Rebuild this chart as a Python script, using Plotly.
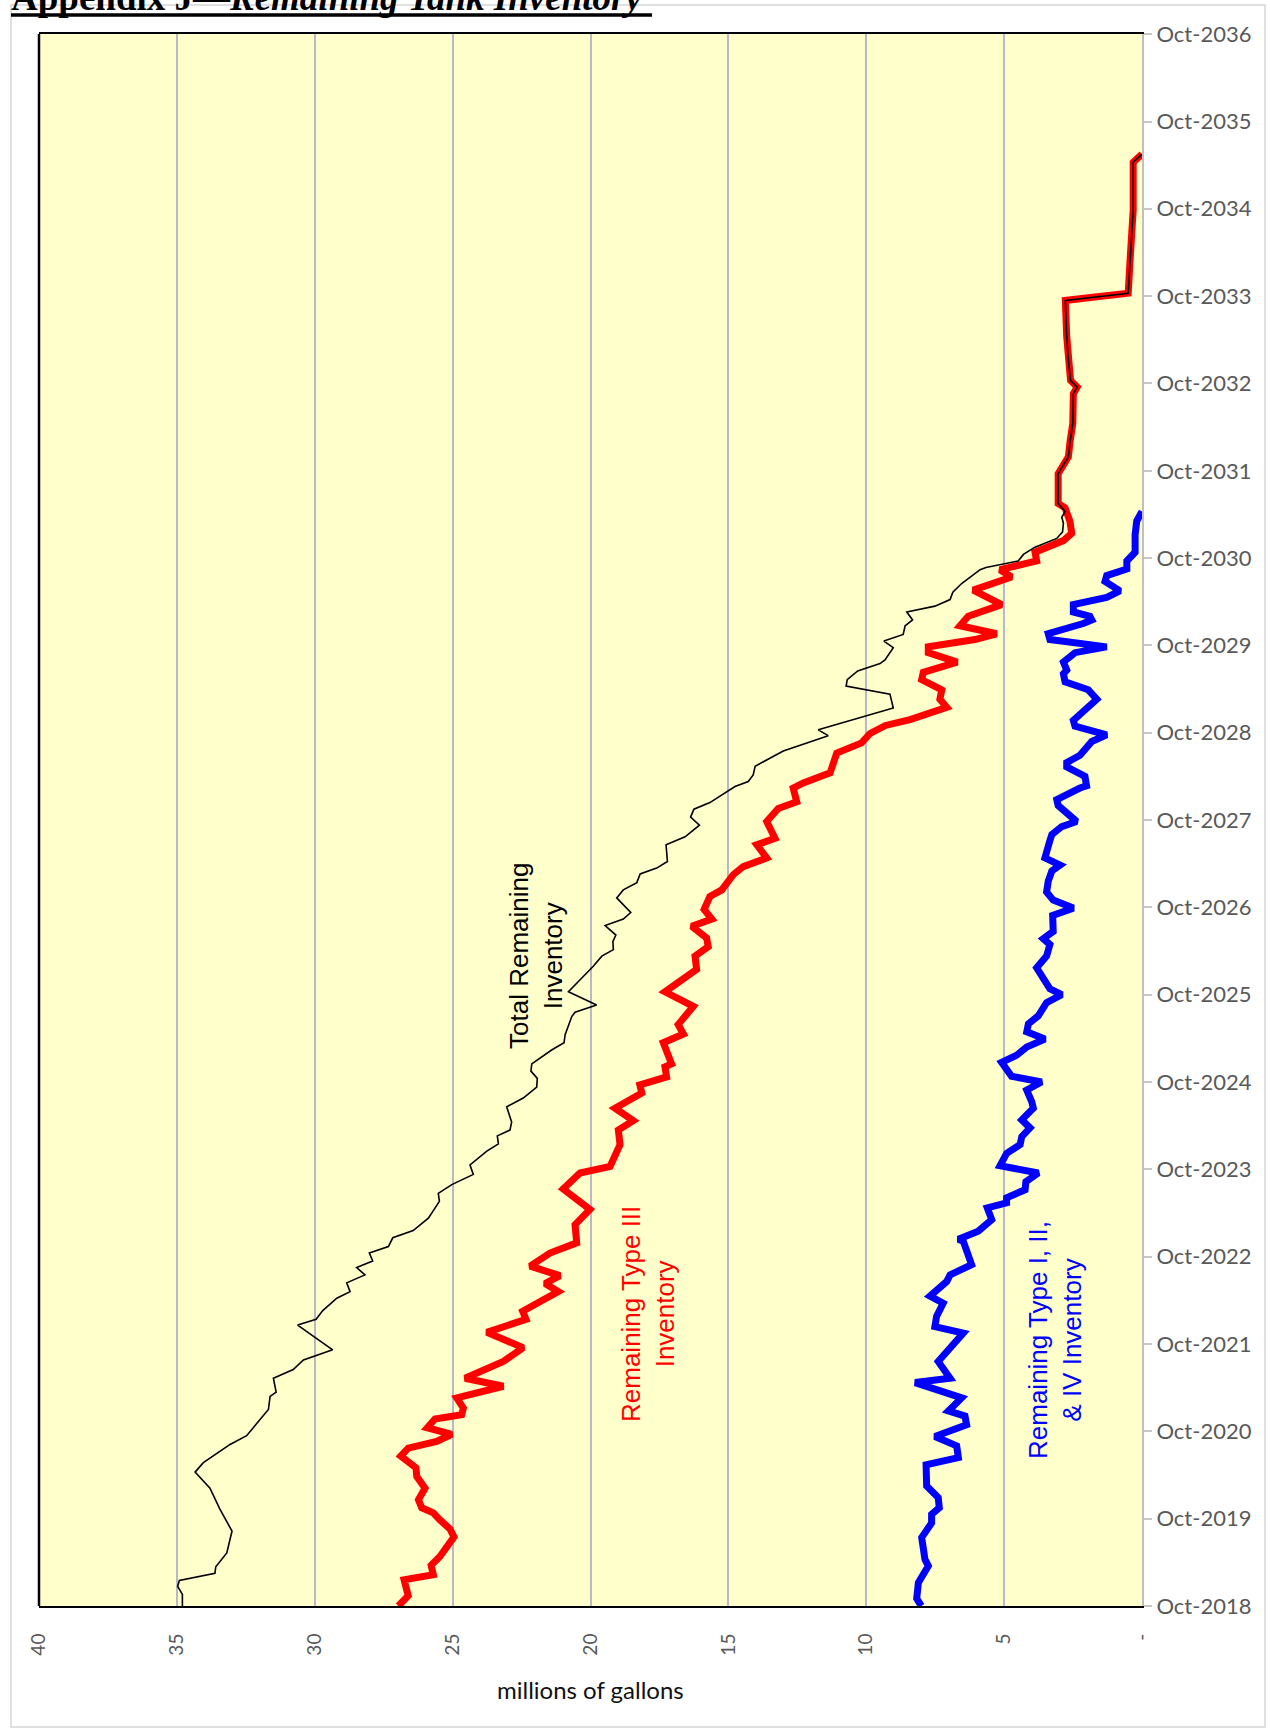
import numpy as np
import pandas as pd
import plotly.graph_objects as go

# ---------------- data (months after Oct-2018, millions of gallons) ----------------
total_months = [0, 1.6, 2.7, 3.5, 4.5, 5.4, 7.3, 10.3, 13.3, 16.2, 18.4, 19.7, 22.2, 23.4, 27.0, 28.8,
                29.4, 31.3, 32.5, 33.8, 35.2, 38.6, 39.4, 40.6, 42.3, 43.2, 44.4, 45.5, 46.5, 47.4,
                48.5, 49.4, 50.6, 51.6, 53.3, 55.6, 56.7, 57.9, 59.3, 60.6, 62.5, 63.5, 64.6, 65.4,
                66.5, 68.6, 69.8, 71.3, 72.5, 73.5, 74.5, 76.4, 77.4, 78.5, 81.0, 81.6, 82.6, 84.4,
                87.9, 89.3, 90.2, 91.3, 92.2, 93.5, 94.4, 95.3, 97.3, 98.4, 99.4, 100.6, 101.4, 102.3,
                104.6, 105.7, 107.3, 108.4, 109.5, 110.4, 112.6, 113.3, 114.2, 115.4, 117.5, 119.6,
                120.4, 122.4, 123.4, 125.3, 126.4, 127.3, 128.5, 129.5, 130.0, 131.7, 132.6, 133.5,
                134.7, 135.5, 136.6, 137.4, 138.3, 139.3, 140.5, 142.4, 142.7, 143.6, 144.5, 145.5,
                146.7, 147.6, 148.8, 149.6, 150.4]
total_values = [34.80, 34.80, 34.97, 34.91, 33.62, 33.59, 33.19, 33.00, 33.44, 33.80, 34.34, 34.04,
                33.07, 32.47, 31.68, 31.62, 31.40, 31.50, 30.78, 30.41, 29.35, 30.62, 29.95, 29.71,
                29.20, 28.72, 28.84, 28.18, 28.48, 27.90, 28.02, 27.33, 27.17, 26.43, 25.88, 25.48,
                25.52, 25.03, 24.25, 24.37, 23.76, 23.34, 23.38, 22.92, 22.86, 23.04, 22.44, 21.95,
                21.93, 22.16, 22.13, 21.41, 20.96, 20.92, 20.68, 20.56, 19.78, 20.80, 19.90, 19.59,
                19.17, 19.19, 19.08, 19.47, 18.81, 18.54, 19.05, 18.81, 18.32, 18.20, 17.60, 17.21,
                17.26, 16.57, 16.05, 16.37, 16.25, 15.67, 14.76, 14.28, 14.10, 14.03, 13.01, 11.38,
                11.74, 9.98, 9.02, 9.14, 10.73, 10.69, 10.31, 9.50, 9.32, 9.02, 9.36, 8.66,
                8.59, 8.32, 8.53, 7.51, 6.96, 6.86, 6.54, 5.87, 5.66, 4.49, 4.30, 3.88,
                3.09, 2.88, 2.85, 2.91, 2.79]

type3_months = [0, 1.4, 3.6, 4.3, 5.6, 6.8, 9.5, 10.6, 11.9, 12.8, 13.5, 14.6, 16.2, 17.8, 19.0, 19.7,
                20.6, 21.7, 22.6, 23.6, 24.5, 25.7, 26.3, 27.2, 28.6, 30.2, 31.3, 33.6, 35.5, 37.6,
                39.4, 40.5, 41.4, 43.2, 44.3, 45.4, 46.7, 48.5, 49.9, 52.4, 54.5, 57.3, 59.5, 60.4,
                63.4, 65.4, 66.7, 68.4, 70.5, 71.6, 72.7, 74.1, 74.5, 77.4, 78.6, 79.9, 82.4, 84.4,
                87.5, 89.3, 90.6, 91.8, 93.4, 94.4, 95.7, 97.5, 98.4, 100.5, 101.6, 102.8, 104.6,
                105.5, 107.8, 109.6, 110.5, 112.4, 113.1, 114.5, 117.2, 118.6, 119.9, 121.0, 121.8,
                123.5, 124.6, 125.9, 127.3, 128.3, 129.7, 131.0, 131.8, 132.8, 133.6, 134.7, 136.0,
                137.6, 139.6, 140.5, 141.4, 142.4, 143.6, 144.8, 146.4, 147.4, 149.0, 150.9]
type3_values = [26.97, 26.61, 26.76, 25.70, 25.78, 25.46, 24.95, 25.10, 25.48, 25.70, 26.12, 26.24,
                26.00, 26.30, 26.33, 26.61, 26.88, 26.61, 25.58, 25.03, 25.92, 25.64, 24.67, 24.61,
                24.85, 23.16, 24.55, 23.16, 22.44, 23.76, 22.34, 22.46, 22.07, 21.17, 21.65, 21.11,
                22.19, 21.47, 20.50, 20.56, 20.02, 20.99, 20.38, 19.29, 18.93, 18.99, 18.45, 19.11,
                18.14, 18.21, 17.24, 17.30, 17.06, 17.36, 16.63, 16.82, 16.27, 17.30, 16.15, 16.21,
                15.73, 15.79, 16.33, 15.60, 15.88, 15.67, 15.24, 14.82, 14.46, 13.61, 13.97, 13.31,
                13.61, 13.19, 12.52, 12.65, 12.28, 11.31, 11.07, 10.17, 9.86, 9.30, 8.41, 7.08,
                7.33, 7.26, 7.99, 7.93, 6.70, 7.75, 7.75, 6.06, 5.27, 6.60, 6.30, 5.09, 6.12, 5.33,
                4.73, 5.15, 3.82, 3.88, 2.85, 2.55, 2.61, 2.79]

# final stretch shared by Total and Type III (all remaining waste is Type III)
tail_months = [151.5, 155.6, 156.8, 157.9, 160.0, 162.5, 166.6, 167.5, 168.4, 171.2, 174.4, 179.4,
               180.4, 184.5, 188.1, 191.8, 198.4, 199.5]
tail_values = [3.04, 3.04, 2.85, 2.67, 2.61, 2.51, 2.49, 2.35, 2.59, 2.67, 2.73, 2.78,
               0.50, 0.44, 0.37, 0.32, 0.32, 0.0]

other_months = [0, 1.0, 3.2, 5.5, 6.4, 9.4, 11.4, 12.6, 13.5, 14.9, 16.5, 19.4, 20.4, 22.0, 23.3,
                24.9, 26.1, 26.8, 28.6, 30.7, 31.3, 33.6, 37.5, 38.4, 39.8, 41.6, 42.6, 44.6, 45.5,
                46.9, 50.1, 50.4, 51.5, 53.1, 54.7, 55.4, 56.1, 57.2, 58.3, 59.5, 60.5, 62.2, 63.4,
                64.5, 65.7, 66.8, 68.4, 69.3, 70.9, 72.0, 72.8, 74.7, 75.7, 76.8, 77.9, 78.9, 80.0,
                81.1, 82.9, 84.0, 84.8, 87.7, 89.3, 90.9, 91.7, 92.7, 94.9, 95.9, 97.0, 98.1, 99.6,
                101.0, 101.8, 102.8, 105.2, 106.0, 107.1, 107.8, 110.0, 110.8, 112.4, 112.7, 114.0,
                115.3, 115.9, 116.9, 118.8, 119.7, 120.9, 121.7, 124.6, 125.9, 127.0, 128.1, 128.6,
                129.7, 131.0, 131.8, 132.8, 133.6, 135.0, 135.5, 136.0, 136.6, 137.6, 138.6, 139.5,
                140.8, 141.6, 142.5, 143.6, 144.8, 147.2, 149.1, 150.4]
other_values = [8.00, 8.17, 8.11, 7.75, 7.87, 7.99, 7.63, 7.63, 7.35, 7.39, 7.81, 7.83, 6.66, 6.72,
                7.51, 6.36, 6.42, 7.02, 6.54, 8.23, 6.96, 7.39, 6.48, 7.51, 7.45, 7.21, 7.69, 7.08,
                6.96, 6.18, 6.48, 6.66, 5.94, 5.45, 5.61, 4.91, 4.91, 4.24, 4.21, 3.76, 5.15, 4.91,
                4.42, 4.36, 4.06, 4.36, 3.94, 4.00, 4.18, 3.64, 4.73, 5.09, 4.54, 4.18, 3.52, 4.18,
                4.12, 3.76, 3.46, 2.91, 3.34, 3.82, 3.46, 3.34, 3.58, 3.22, 3.24, 2.49, 3.22, 3.46,
                3.40, 3.27, 2.97, 3.52, 3.34, 3.27, 2.91, 2.37, 3.04, 3.09, 2.25, 2.01, 2.07, 2.73,
                2.73, 2.25, 1.82, 1.28, 2.43, 2.49, 1.64, 1.95, 2.79, 2.85, 2.73, 2.85, 2.43, 1.28,
                3.34, 3.40, 2.13, 1.82, 1.89, 2.49, 2.49, 1.28, 0.80, 1.34, 1.28, 0.55, 0.55, 0.25,
                0.25, 0.19, 0.0]

value_ticks = [40, 35, 30, 25, 20, 15, 10, 5, 0]
value_tick_text = ["40", "35", "30", "25", "20", "15", "10", "5", "-"]
start_date = "2018-10-01"
end_date = "2036-10-01"

# ---------------- build ----------------
base = pd.Timestamp(start_date)


def to_dates(months):
    return base + pd.to_timedelta(np.asarray(months, dtype=float) * 30.4375, unit="D")


total_m = total_months + tail_months
total_v = total_values + tail_values
t3_m = type3_months + tail_months
t3_v = type3_values + tail_values

fig = go.Figure()
fig.add_trace(go.Scatter(x=other_values, y=to_dates(other_months), mode="lines",
                         line=dict(color="#0000FF", width=7), name="Remaining Type I, II, & IV Inventory",
                         showlegend=False))
fig.add_trace(go.Scatter(x=t3_v, y=to_dates(t3_m), mode="lines",
                         line=dict(color="#FF0000", width=7), name="Remaining Type III Inventory",
                         showlegend=False))
fig.add_trace(go.Scatter(x=total_v, y=to_dates(total_m), mode="lines",
                         line=dict(color="#000000", width=1.6), name="Total Remaining Inventory",
                         showlegend=False))

W, H = 1270, 1728
L, R, T, B = 39, 1142, 34, 1606
pw, ph = R - L, B - T


def px(x):
    return (x - L) / pw


def py(y):
    return (B - y) / ph


fig.update_layout(
    width=W, height=H, autosize=False,
    margin=dict(l=L, r=W - R, t=T, b=H - B, pad=0),
    paper_bgcolor="white", plot_bgcolor="#FFFFCC",
    font=dict(family="Lato, 'Liberation Sans', sans-serif", color="#595959"),
    xaxis=dict(range=[40, 0], tickvals=value_ticks, ticktext=value_tick_text, tickangle=-90,
               showgrid=True, gridcolor="#B8B8C8", gridwidth=1.5, zeroline=False,
               showline=True, linecolor="black", linewidth=2, mirror=True,
               ticks="", ticklabelstandoff=18,
               tickfont=dict(family="Lato, sans-serif", size=19, color="#595959")),
    yaxis=dict(type="date", range=[start_date, end_date], tick0=start_date, dtick="M12",
               tickformat="%b-%Y", side="right", showgrid=False, zeroline=False,
               showline=True, linecolor="#C0C0C0", linewidth=2,
               ticks="outside", ticklen=8, tickwidth=2, tickcolor="#C8C8C8",
               tickfont=dict(family="Lato, sans-serif", size=22, color="#595959")),
)

shapes = [
    dict(type="rect", xref="paper", yref="paper", x0=px(11), x1=px(1265), y0=py(1727), y1=py(5),
         line=dict(color="#D6D6D6", width=1.5), fillcolor="rgba(0,0,0,0)", layer="below"),
    dict(type="line", xref="paper", yref="paper", x0=0, x1=0, y0=0, y1=1,
         line=dict(color="black", width=2.5)),
    dict(type="line", xref="paper", yref="paper", x0=px(11), x1=px(652), y0=py(15), y1=py(15),
         line=dict(color="black", width=3.5)),
]
fig.update_layout(shapes=shapes)

annotations = [
    dict(text="<b>Appendix J\u2014<i>Remaining Tank Inventory</i></b>", xref="paper", yref="paper",
         x=px(9), y=py(20), xanchor="left", yanchor="bottom", showarrow=False,
         font=dict(family="'Liberation Serif', 'Times New Roman', serif", size=37, color="black")),
    dict(text="millions of gallons", xref="paper", yref="paper", x=0.5, y=py(1689),
         xanchor="center", yanchor="middle", showarrow=False,
         font=dict(family="Lato, sans-serif", size=24, color="#111111")),
    dict(text="Total Remaining<br>Inventory", xref="paper", yref="paper", x=px(536), y=py(956),
         xanchor="center", yanchor="middle", textangle=-90, showarrow=False, align="center",
         font=dict(family="'Liberation Sans', Arial, sans-serif", size=26, color="black")),
    dict(text="Remaining Type III<br>Inventory", xref="paper", yref="paper", x=px(648), y=py(1314),
         xanchor="center", yanchor="middle", textangle=-90, showarrow=False, align="center",
         font=dict(family="'Liberation Sans', Arial, sans-serif", size=26, color="#FF0000")),
    dict(text="Remaining Type I, II,<br>& IV Inventory", xref="paper", yref="paper", x=px(1055),
         y=py(1340), xanchor="center", yanchor="middle", textangle=-90, showarrow=False, align="center",
         font=dict(family="'Liberation Sans', Arial, sans-serif", size=26, color="#0000FF")),
]
fig.update_layout(annotations=annotations)

fig.write_html("out.html", config={"displayModeBar": False},
               post_script="document.body.style.margin='0px';document.body.style.overflow='hidden';")
